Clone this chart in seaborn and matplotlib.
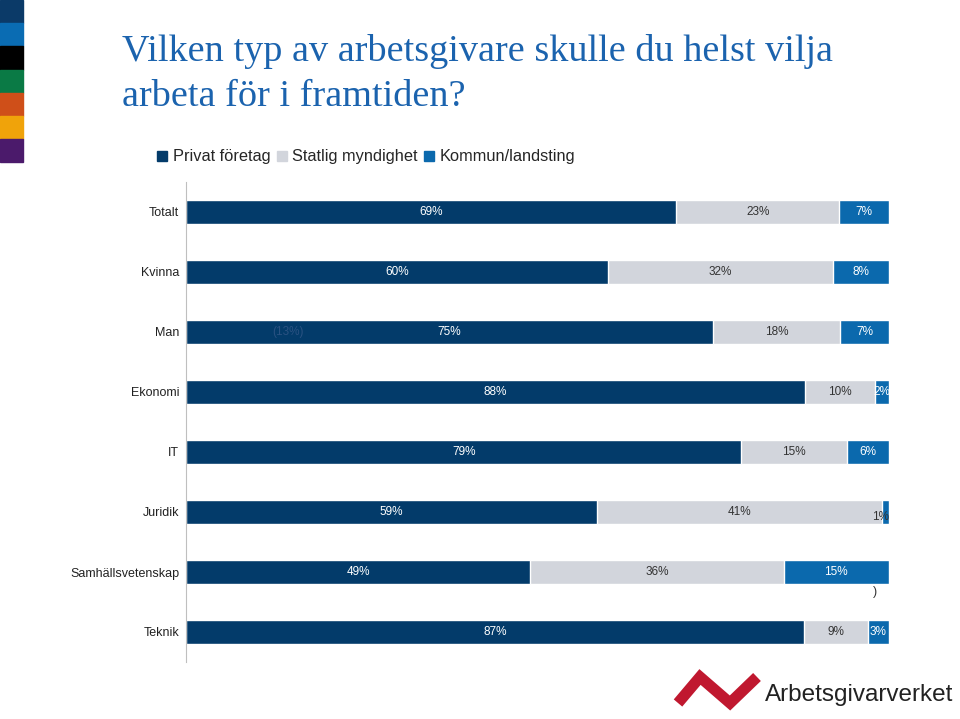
import numpy as np
import pandas as pd
import matplotlib.pyplot as plt
import seaborn as sns
from matplotlib.patches import Rectangle

categories = ["Totalt", "Kvinna", "Man", "Ekonomi", "IT", "Juridik",
              "Samhällsvetenskap", "Teknik"]
privat = [69, 60, 75, 88, 79, 59, 49, 87]
statlig = [23, 32, 18, 10, 15, 41, 36, 9]
kommun = [7, 8, 7, 2, 6, 1, 15, 3]
series_names = ["Privat företag", "Statlig myndighet", "Kommun/landsting"]

c_dark = "#033b6a"
c_grey = "#d2d5dc"
c_blue = "#0b69ad"

df = pd.DataFrame({"kat": categories, "p": privat, "s": statlig, "k": kommun})
tot = df[["p", "s", "k"]].sum(axis=1)
df["p_n"] = df["p"] / tot
df["s_n"] = df["s"] / tot
df["k_n"] = df["k"] / tot
df["cum1"] = df["p_n"]
df["cum2"] = df["p_n"] + df["s_n"]
df["cum3"] = df["cum2"] + df["k_n"]

sns.set_style("white")
plt.rcParams["font.family"] = ["Liberation Sans", "DejaVu Sans"]

fig = plt.figure(figsize=(9.6, 7.19), dpi=100)
ax = fig.add_axes([186 / 960, 1 - 662 / 719, 703 / 960, 480 / 719])

sns.barplot(data=df, x="cum3", y="kat", color=c_blue, width=0.4,
            saturation=1, ax=ax, orient="h")
sns.barplot(data=df, x="cum2", y="kat", color=c_grey, width=0.4,
            saturation=1, ax=ax, orient="h")
sns.barplot(data=df, x="cum1", y="kat", color=c_dark, width=0.4,
            saturation=1, ax=ax, orient="h")

ax.set_xlim(0, 1)
ax.set_ylim(len(categories) - 0.5, -0.5)
ax.set_xlabel("")
ax.set_ylabel("")
ax.set_xticks([])
for s in ["top", "right", "bottom"]:
    ax.spines[s].set_visible(False)
ax.spines["left"].set_color("#bfbfbf")
ax.tick_params(axis="y", length=0, labelsize=9, pad=5, labelcolor="#222222")
ax.set_yticks(np.arange(-0.5, len(categories), 1), minor=True)
ax.tick_params(axis="y", which="minor", length=5, color="#bfbfbf", direction="out")

# value labels
for i, row in df.iterrows():
    ax.text(row["p_n"] / 2, i, f"{row['p']}%", ha="center", va="center",
            color="white", fontsize=8.5)
    ax.text(row["cum1"] + row["s_n"] / 2, i, f"{row['s']}%", ha="center",
            va="center", color="#333333", fontsize=8.5)
    if row["kat"] == "Juridik":
        ax.text(row["cum3"], i + 0.08, f"{row['k']}%", ha="right", va="center",
                color="#333333", fontsize=8.5)
    else:
        ax.text(row["cum2"] + row["k_n"] / 2, i, f"{row['k']}%", ha="center",
                va="center", color="white", fontsize=8.5)

# faint ghost label in the Man row
ax.text(0.145, 2, "(13%)", ha="center", va="center", color="#2a5282", fontsize=8.5)

# legend
handles = [Rectangle((0, 0), 1, 1, color=c) for c in [c_dark, c_grey, c_blue]]
fig.legend(handles, series_names, loc="center left",
           bbox_to_anchor=(157 / 960, 1 - 157 / 719), ncol=3, frameon=False,
           fontsize=11.8, handlelength=0.6, handleheight=0.6, handletextpad=0.35,
           columnspacing=0.4, borderaxespad=0, borderpad=0)

fig.text(875 / 960, 1 - 592 / 719, ")", ha="center", va="center", fontsize=9,
         color="#333333")

# title
fig.text(122 / 960, 1 - 74 / 719, "Vilken typ av arbetsgivare skulle du helst vilja\narbeta för i framtiden?",
         ha="left", va="center", fontsize=27.5, color="#1b63ae",
         family=["Liberation Serif", "DejaVu Serif"], linespacing=1.38)

# left colour strip
strip_colors = ["#0b3a68", "#0a6cb3", "#000000", "#0a7a45", "#cf4f19", "#f0a30a", "#4b1a6b"]
for k, col in enumerate(strip_colors):
    fig.patches.append(Rectangle((0, 1 - (k + 1) * 23.2 / 719), 23 / 960, 23.2 / 719,
                                 transform=fig.transFigure, color=col))

# logo
lx = np.array([678, 700, 730, 757]) / 960
ly = 1 - np.array([703, 677, 703, 677]) / 719
fig.lines.append(plt.Line2D(lx, ly, transform=fig.transFigure, color="#c0182f",
                            lw=8, solid_capstyle="butt", solid_joinstyle="miter"))
fig.text(765 / 960, 1 - 695 / 719, "Arbetsgivarverket", ha="left", va="center",
         fontsize=17.5, color="#222222")

fig.savefig("out.png", dpi=100)
